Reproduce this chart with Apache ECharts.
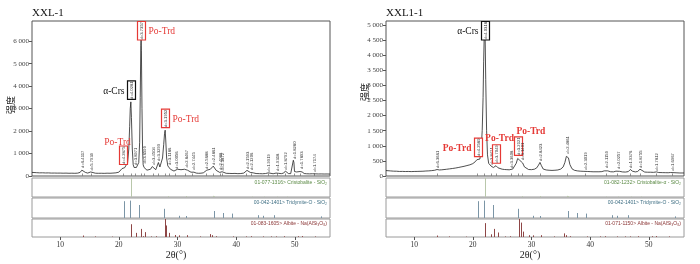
<!DOCTYPE html>
<html><head><meta charset="utf-8">
<script src="https://cdn.jsdelivr.net/npm/echarts@6/dist/echarts.min.js"></script>
<style>html,body{margin:0;padding:0;background:#fff}#c{width:700px;height:264px}</style>
</head><body><div id="c"></div>
<script>
// ---------------- DATA ----------------
const xTickValues = [10, 20, 30, 40, 50];
const yTicksXXL1 = [0, 1000, 2000, 3000, 4000, 5000, 6000];
const yTicksXXL11 = [0, 500, 1000, 1500, 2000, 2500, 3000, 3500, 4000, 4500, 5000];

// XXL-1 diffraction profile [2θ, counts]
const xxl1Profile = [
[5.2,160],[5.5,150],[6,148],[6.5,140],[7,142],[7.5,135],[8,138],[8.5,130],[9,132],[9.5,128],[10,130],[10.5,125],[11,128],[11.5,122],[12,125],[12.5,120],[13,128],[13.4,160],[13.7,260],[13.85,300],[14.0,250],[14.3,160],[14.7,130],[15.0,135],[15.2,180],[15.35,190],[15.5,140],[16,125],[16.5,120],[17,122],[17.5,118],[18,125],[18.5,122],[19,130],[19.5,140],[20,170],[20.3,230],[20.55,330],[20.75,400],[21.0,370],[21.3,430],[21.5,600],[21.7,1200],[21.85,2200],[21.95,3000],[22.05,3300],[22.15,2600],[22.3,1200],[22.45,500],[22.6,380],[22.8,430],[23.0,380],[23.2,420],[23.4,600],[23.55,1500],[23.65,3500],[23.75,5800],[23.8,6150],[23.85,5600],[23.95,3000],[24.05,1200],[24.15,500],[24.3,380],[24.5,320],[24.8,260],[25.1,250],[25.4,300],[25.7,420],[25.85,450],[26.0,350],[26.3,280],[26.6,350],[26.75,600],[26.85,550],[27.0,400],[27.2,450],[27.45,800],[27.65,1400],[27.8,1900],[27.9,2040],[28.0,1600],[28.15,800],[28.35,450],[28.6,430],[28.8,300],[29.1,230],[29.4,220],[29.7,260],[30.0,300],[30.3,290],[30.6,280],[30.9,290],[31.2,300],[31.45,320],[31.7,260],[32.0,190],[32.3,170],[32.6,220],[32.8,170],[33.2,130],[33.6,120],[34.0,125],[34.4,140],[34.7,200],[35.0,260],[35.3,230],[35.6,300],[35.9,380],[36.1,440],[36.3,380],[36.6,250],[36.9,180],[37.2,160],[37.4,200],[37.6,190],[37.9,150],[38.3,120],[38.8,115],[39.3,110],[39.8,115],[40.3,105],[40.8,110],[41.3,130],[41.6,200],[41.85,250],[42.1,200],[42.4,160],[42.65,200],[42.9,140],[43.4,110],[44,105],[44.5,100],[45.0,110],[45.5,140],[45.8,110],[46.3,100],[46.8,130],[47.0,160],[47.2,120],[47.7,105],[48.1,130],[48.4,220],[48.6,170],[48.9,110],[49.3,105],[49.6,150],[49.75,700],[49.85,600],[49.95,200],[50.1,250],[50.3,180],[50.6,130],[50.9,200],[51.05,260],[51.25,180],[51.6,110],[52,100],[52.5,95],[53,100],[53.3,130],[53.6,95],[54,90],[54.5,92],[55,88],[55.5,90],[56,85]
];
// XXL1-1 diffraction profile [2θ, counts]
const xxl11Profile = [
[5.2,180],[5.5,170],[6,168],[6.5,160],[7,158],[7.5,150],[8,152],[8.5,148],[9,150],[9.5,146],[10,150],[10.5,152],[11,155],[11.5,158],[12,165],[12.5,170],[13,178],[13.5,190],[13.9,215],[14.3,200],[14.7,205],[15,210],[15.5,222],[16,235],[16.5,248],[17,262],[17.5,280],[18,300],[18.5,320],[19,345],[19.5,370],[20,410],[20.4,470],[20.7,540],[20.85,560],[21.0,520],[21.2,560],[21.4,800],[21.6,1500],[21.75,2600],[21.85,3800],[21.95,4700],[22.03,5050],[22.1,4600],[22.2,3200],[22.35,1500],[22.5,700],[22.7,420],[22.9,360],[23.1,330],[23.3,300],[23.5,280],[23.7,300],[23.95,340],[24.1,320],[24.3,270],[24.6,240],[25.0,225],[25.4,215],[25.8,210],[26.2,205],[26.5,215],[26.8,230],[27.1,280],[27.4,420],[27.65,580],[27.8,600],[28.0,520],[28.3,480],[28.5,430],[28.8,300],[29.1,240],[29.5,215],[30,210],[30.5,225],[30.9,270],[31.2,360],[31.45,450],[31.7,340],[32,230],[32.5,200],[33,190],[33.5,185],[34,190],[34.5,200],[35.0,230],[35.4,300],[35.7,450],[35.95,650],[36.1,700],[36.3,600],[36.55,380],[36.9,240],[37.3,190],[37.8,170],[38.3,160],[38.8,155],[39.1,165],[39.5,150],[40,145],[40.5,140],[41,140],[41.5,140],[42,145],[42.4,170],[42.7,210],[43.0,170],[43.5,140],[44,138],[44.4,160],[44.7,195],[45.0,155],[45.5,135],[46,130],[46.5,145],[46.85,215],[47.2,160],[47.7,135],[48.1,150],[48.5,225],[48.8,160],[49.3,130],[49.8,125],[50.3,125],[50.8,120],[51.3,135],[51.7,115],[52.3,112],[52.8,110],[53.3,108],[53.7,115],[54.0,135],[54.3,110],[54.8,105],[55.3,100],[56,100]
];

// identified peaks: 2θ and d-spacing text
const xxl1PeakAngle = [13.8,15.28,20.7,22.05,22.8,23.8,24.3,25.8,26.75,27.9,28.6,29.7,31.4,32.6,34.9,36.1,37.3,37.65,41.8,42.6,45.5,47.0,48.4,49.85,51.0,53.3];
const xxl1PeakD = ['6.4117','5.7939','4.2875','4.0281','3.8971','3.7357','3.6599','3.4504','3.3299','3.1952','3.1186','3.0056','2.8467','2.7445','2.5688','2.4861','2.4088','2.3872','2.1593','2.1206','1.9919','1.9318','1.8792','1.8280','1.7893','1.7174'];
const xxl11PeakAngle = [13.9,20.84,22.03,23.1,24.0,26.5,27.75,28.4,31.45,36.1,39.1,42.7,44.7,46.85,48.5,51.25,54.0];
const xxl11PeakD = ['6.3661','4.2589','4.0318','3.8471','3.7049','3.3608','3.2121','3.1401','2.8423','2.4861','2.3019','2.1159','2.0257','1.9376','1.8755','1.7812','1.6967'];

// phase annotations
const xxl1PhaseAngle = [20.7, 22.05, 23.8, 27.9];
const xxl1PhaseName = ['Po-Trd', 'α-Crs', 'Po-Trd', 'Po-Trd'];
const xxl11PhaseAngle = [20.84, 22.03, 24.0, 27.75];
const xxl11PhaseName = ['Po-Trd', 'α-Crs', 'Po-Trd', 'Po-Trd'];

// reference patterns [2θ, relative intensity]
const cristobaliteSticks = [[22.0,100],[28.45,4],[31.45,5],[36.1,6],[36.3,4],[42.7,2],[44.8,2],[47.0,2],[48.6,2]];
const tridymiteSticks = [[20.85,84],[21.99,87],[23.5,65],[27.7,46],[30.2,11],[31.5,10],[36.3,35],[37.8,25],[39.3,22],[43.7,14],[44.6,11],[46.4,14],[54.5,8]];
const albiteSticksXXL1 = [[13.87,8],[15.9,3],[18.8,2],[22.05,71],[23.0,23],[23.75,45],[24.2,4],[24.5,27],[25.5,3],[26.4,4],[27.85,100],[28.1,64],[28.5,23],[29.65,11],[30.2,9],[31.6,10],[33.8,3],[35.6,16],[35.9,10],[36.6,4],[39.5,3],[41.6,3],[42.5,4],[44.5,3],[45.9,3],[46.8,3],[48.2,4],[50.5,4],[51.2,5],[53.5,3]];
const albiteSticksXXL11 = [[13.9,8],[15.9,3],[18.8,2],[22.05,77],[23.05,15],[23.6,45],[24.3,25],[25.5,3],[26.4,4],[27.9,100],[28.2,80],[28.6,30],[29.6,10],[30.2,9],[31.6,10],[33.8,3],[35.6,20],[35.9,10],[36.6,4],[39.5,3],[41.6,3],[42.5,4],[44.5,3],[45.9,3],[46.8,3],[48.2,4],[50.5,4],[51.2,5],[53.5,3]];
const refNamesXXL1 = ['01-077-1316> Cristobalite - SiO₂', '00-042-1401> Tridymite-O - SiO₂', '01-083-1605> Albite - Na(AlSi₃O₈)'];
const refNamesXXL11 = ['01-082-1232> Cristobalite-α - SiO₂', '00-042-1401> Tridymite-O - SiO₂', '01-071-1150> Albite - Na(AlSi₃O₈)'];
const sampleNames = ['XXL-1', 'XXL1-1'];
const yName = '强度';
const xName = '2θ(°)';

// ---------------- LAYOUT / STYLE ----------------
const SERIF = '"Liberation Serif", "Times New Roman", serif';
const SANS = '"Liberation Sans", Arial, sans-serif';
const RED = '#e53935';
const W = 298;
const rows = [{top:21,h:155},{top:178,h:19},{top:198,h:20},{top:219,h:18}];
const panels = [
  {left:32, profile:xxl1Profile, ymax:6900, yticks:yTicksXXL1, peaks:xxl1PeakAngle, d:xxl1PeakD,
   phA:xxl1PhaseAngle, phN:xxl1PhaseName, sticks:[cristobaliteSticks, tridymiteSticks, albiteSticksXXL1], refNames:refNamesXXL1,
   place:[{pos:'above',dx:-6,dy:1},{pos:'left'},{pos:'right'},{pos:'right'}], bold:false, yNameY:105},
  {left:386, profile:xxl11Profile, ymax:5130, yticks:yTicksXXL11, peaks:xxl11PeakAngle, d:xxl11PeakD,
   phA:xxl11PhaseAngle, phN:xxl11PhaseName, sticks:[cristobaliteSticks, tridymiteSticks, albiteSticksXXL11], refNames:refNamesXXL11,
   place:[{pos:'left'},{pos:'left'},{pos:'above',dx:3,dy:-1},{pos:'aboveLeft',dx:2,dy:0}], bold:true, yNameY:92}
];
const stickColors = ['#b9c7ab', '#7b95a6', '#8e4646'];
const refLabelColors = ['#5b8a45', '#3f6f84', '#8a3434'];
const fmt = v => String(v).replace(/\B(?=(\d{3})+(?!\d))/g, ' ');

function localMax(profile, a) {
  let m = 0;
  profile.forEach(p => { if (Math.abs(p[0] - a) <= 0.2 && p[1] > m) m = p[1]; });
  return m;
}

const grid = [], xAxis = [], yAxis = [], series = [], graphic = [];
panels.forEach((P, pi) => {
  rows.forEach((r, ri) => {
    const k = pi * 4 + ri;
    grid.push({left:P.left, top:r.top, width:W, height:r.h, show:true, backgroundColor:'#fff',
      borderColor: ri === 0 ? '#555' : '#9a9a9a', borderWidth:1, containLabel:false});
    const isBottom = ri === 3;
    xAxis.push({type:'value', gridIndex:k, min:5.2, max:56,
      axisLine:{show:false}, splitLine:{show:false},
      axisTick: ri === 0 ? {show:true, inside:true, length:2.5, customValues:P.peaks, lineStyle:{color:'#777', width:0.8}}
              : isBottom ? {show:true, length:3, customValues:xTickValues, lineStyle:{color:'#555'}} : {show:false},
      axisLabel: isBottom ? {show:true, customValues:xTickValues, fontFamily:SERIF, fontSize:7.5, color:'#333', margin:4} : {show:false}
    });
    yAxis.push(ri === 0 ? {type:'value', gridIndex:k, min:0, max:P.ymax,
      axisLine:{show:false}, splitLine:{show:false},
      axisTick:{show:true, length:3, customValues:P.yticks, lineStyle:{color:'#555'}},
      axisLabel:{show:true, customValues:P.yticks, formatter:fmt, fontFamily:SERIF, fontSize:7, color:'#444', margin:3}}
      : {type:'value', gridIndex:k, min:0, max:100, show:false});
    if (ri === 0) {
      series.push({type:'line', xAxisIndex:k, yAxisIndex:k, data:P.profile, showSymbol:false, silent:true,
        animation:false, lineStyle:{color:'#222', width:0.8}, clip:true});
      // peak labels
      const peakData = P.peaks.map(a => [a, localMax(P.profile, a)]);
      series.push({type:'custom', xAxisIndex:k, yAxisIndex:k, data:peakData, silent:true, animation:false, clip:false, z:5,
        renderItem:(params, api) => {
          const i = params.dataIndex;
          const a = api.value(0), I = api.value(1);
          const p = api.coord([a, I]);
          const cs = params.coordSys;
          const phi = P.phA.findIndex(v => Math.abs(v - a) < 0.12);
          const boxed = phi >= 0;
          const len = boxed ? 18.5 : 15;
          let bottom = p[1] - 2.5;
          if (bottom - len < cs.y + 0.5) bottom = cs.y + 0.5 + len;
          const cx = Math.round(p[0]) + 0.5;
          const ch = [];
          if (boxed) {
            const col = P.phN[phi] === 'α-Crs' ? '#111' : RED;
            const bx = cx - 4, by = bottom - len, bw = 8;
            ch.push({type:'rect', shape:{x:bx, y:by, width:bw, height:len}, style:{fill:'#fff', stroke:col, lineWidth:1.2}});
            const pl = P.place[phi];
            let tx, ty, align, va;
            if (pl.pos === 'left') { tx = bx - 3; ty = by + len/2 + 1; align = 'right'; va = 'middle'; }
            else if (pl.pos === 'right') { tx = bx + bw + 3; ty = by + len/2 + 1; align = 'left'; va = 'middle'; }
            else if (pl.pos === 'above') { tx = cx + pl.dx; ty = by + pl.dy; align = 'center'; va = 'bottom'; }
            else { tx = bx + pl.dx; ty = by + pl.dy; align = 'left'; va = 'bottom'; }
            ch.push({type:'text', x:tx, y:ty, style:{text:P.phN[phi], fill:col, fontFamily:SERIF, fontSize:9.5,
              fontWeight:(P.bold && col === RED) ? 'bold' : 'normal', align:align, verticalAlign:va}});
          }
          ch.push({type:'text', x:cx, y:bottom - len/2, rotation:Math.PI/2,
            style:{text:'d=' + P.d[i], fill:'#333', fontFamily:SANS, fontSize:4.2, align:'center', verticalAlign:'middle'}});
          return {type:'group', children:ch};
        }});
    } else {
      const col = stickColors[ri - 1];
      series.push({type:'custom', xAxisIndex:k, yAxisIndex:k, data:P.sticks[ri - 1], silent:true, animation:false, clip:true,
        renderItem:(params, api) => {
          const a = api.coord([api.value(0), 0]);
          const b = api.coord([api.value(0), api.value(1)]);
          const x = Math.round(a[0]) + 0.5;
          return {type:'line', shape:{x1:x, y1:a[1], x2:x, y2:b[1]}, style:{stroke:col, lineWidth:1}};
        }});
      graphic.push({type:'text', x:P.left + W - 3, y:r.top + 2, z:10,
        style:{text:P.refNames[ri - 1], fill:refLabelColors[ri - 1], fontFamily:SANS, fontSize:5, align:'right', verticalAlign:'top'}});
    }
  });
  graphic.push({type:'text', x:P.left, y:8, style:{text:sampleNames[pi], fill:'#111', fontFamily:SERIF, fontSize:11}});
  graphic.push({type:'text', x:P.left + W/2 - 5, y:255, style:{text:xName, fill:'#222', fontFamily:SERIF, fontSize:10, align:'center', verticalAlign:'middle'}});
  graphic.push({type:'text', x:P.left - 21, y:P.yNameY, rotation:Math.PI/2,
    style:{text:yName, fill:'#222', fontFamily:'"Noto Sans CJK SC", sans-serif', fontSize:9, align:'center', verticalAlign:'middle'}});
});

const chart = echarts.init(document.getElementById('c'), null, {renderer:'canvas'});
chart.setOption({animation:false, backgroundColor:'#fff', grid, xAxis, yAxis, series, graphic});
</script></body></html>
